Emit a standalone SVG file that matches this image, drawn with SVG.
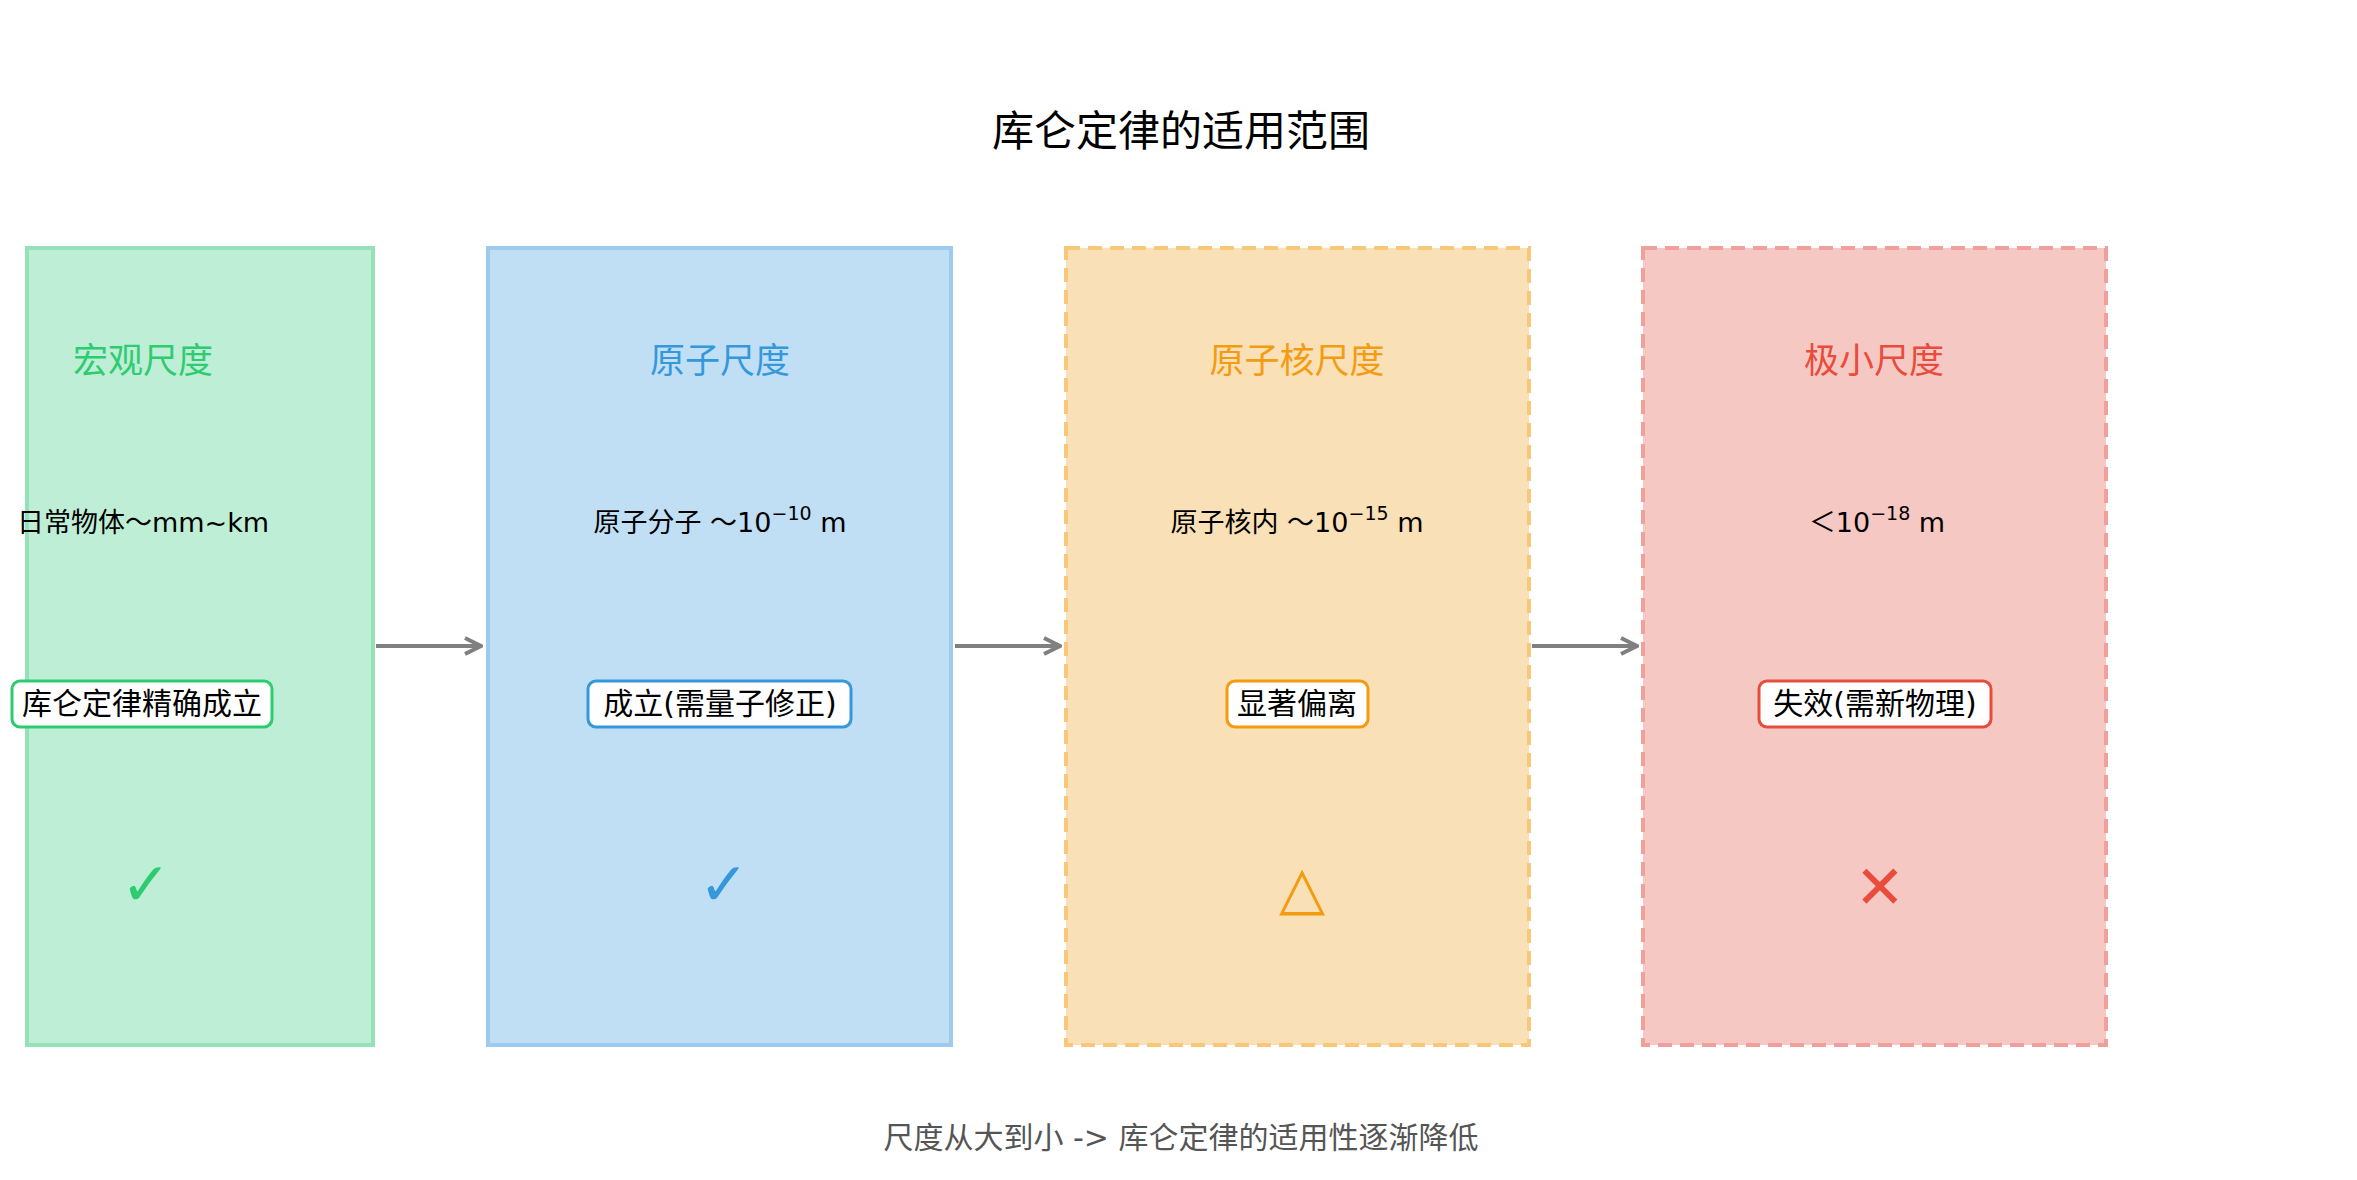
<svg xmlns="http://www.w3.org/2000/svg" width="2357" height="1180" viewBox="0 0 2357 1180">
<defs>
<marker id="ah" viewBox="0 0 10 10" refX="9" refY="5" markerWidth="5" markerHeight="5" orient="auto"><path d="M1,1 L9,5 L1,9" fill="none" stroke="#808080" stroke-width="2"/></marker>
<style>
text{font-family:"DejaVu Sans","Noto Sans CJK SC",sans-serif;text-anchor:middle}
.h{font-size:35px}
.r{font-size:27px;fill:#000}
.l{font-size:30px;fill:#000}
.ic{font-size:60px}
.lb{fill:#fff;stroke-width:3}
.c{stroke:#808080;stroke-width:4;fill:none;marker-end:url(#ah)}
</style>
</defs>
<rect width="2357" height="1180" fill="#fff"/>
<text x="1181" y="146" style="font-size:42px">库仑定律的适用范围</text>
<g id="macro">
<rect x="27" y="248" width="346" height="797" fill="#bfeed6" stroke="#95e2b9" stroke-width="4"/>
<text class="h" x="143" y="373" fill="#2ecc71">宏观尺度</text>
<text class="r" x="143" y="532">日常物体～mm~km</text>
<rect class="lb" x="12" y="681" width="260" height="46" rx="8" stroke="#2ecc71"/>
<text class="l" x="142" y="714">库仑定律精确成立</text>
<text class="ic" x="146" y="905" fill="#2ecc71">✓</text>
</g>
<g id="atom">
<rect x="488" y="248" width="463" height="797" fill="#c0dff4" stroke="#9ccbef" stroke-width="4"/>
<text class="h" x="720" y="373" fill="#3498db">原子尺度</text>
<text class="r" x="720" y="532">原子分子 ～10<tspan dy="-12" font-size="19">−10</tspan><tspan dy="12"> m</tspan></text>
<rect class="lb" x="588" y="681" width="263" height="46" rx="8" stroke="#3498db"/>
<text class="l" x="720" y="714">成立(需量子修正)</text>
<text class="ic" x="724" y="905" fill="#3498db">✓</text>
</g>
<g id="nucleus">
<rect x="1066" y="248" width="463" height="797" fill="#fae0b6" stroke="#f8c878" stroke-width="4" stroke-dasharray="14,8"/>
<text class="h" x="1297" y="373" fill="#f39c12">原子核尺度</text>
<text class="r" x="1297" y="532">原子核内 ～10<tspan dy="-12" font-size="19">−15</tspan><tspan dy="12"> m</tspan></text>
<rect class="lb" x="1227" y="681" width="141" height="46" rx="8" stroke="#f39c12"/>
<text class="l" x="1297" y="714">显著偏离</text>
<text class="ic" x="1302" y="908" fill="#f39c12">△</text>
</g>
<g id="tiny">
<rect x="1643" y="248" width="463" height="797" fill="#f6c8c3" stroke="#f0a09a" stroke-width="4" stroke-dasharray="14,8"/>
<text class="h" x="1874" y="373" fill="#e74c3c">极小尺度</text>
<text class="r" x="1877" y="532">＜10<tspan dy="-12" font-size="19">−18</tspan><tspan dy="12"> m</tspan></text>
<rect class="lb" x="1759" y="681" width="232" height="46" rx="8" stroke="#e74c3c"/>
<text class="l" x="1875" y="714">失效(需新物理)</text>
<text class="ic" x="1880" y="908" fill="#e74c3c">✕</text>
</g>
<g id="connectors">
<line class="c" x1="376" y1="646" x2="481" y2="646"/>
<line class="c" x1="955" y1="646" x2="1060" y2="646"/>
<line class="c" x1="1532" y1="646" x2="1637" y2="646"/>
</g>
<text x="1181" y="1148" style="font-size:30px" fill="#555">尺度从大到小 -&gt; 库仑定律的适用性逐渐降低</text>
</svg>
